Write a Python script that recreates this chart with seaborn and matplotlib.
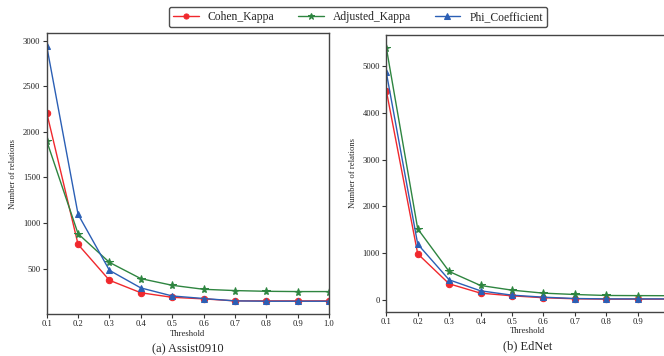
import matplotlib
matplotlib.use("Agg")
import matplotlib.pyplot as plt
import seaborn as sns
import pandas as pd

thresholds = [0.1, 0.2, 0.3, 0.4, 0.5, 0.6, 0.7, 0.8, 0.9, 1.0]
series_names = ["Cohen_Kappa", "Adjusted_Kappa", "Phi_Coefficient"]

assist_cohen = [2210, 765, 372, 235, 185, 168, 146, 146, 146, 146]
assist_adjusted = [1900, 882, 568, 390, 317, 273, 259, 251, 248, 248]
assist_phi = [2940, 1095, 481, 288, 200, 172, 146, 142, 142, 142]

ednet_cohen = [4480, 985, 343, 143, 86, 45, 22, 15, 15, 15]
ednet_adjusted = [5400, 1520, 607, 307, 207, 143, 114, 93, 90, 88]
ednet_phi = [4870, 1192, 428, 193, 100, 57, 28, 20, 20, 20]

subtitles = ["(a) Assist0910", "(b) EdNet"]

colors = {"Cohen_Kappa": "#f0282d", "Adjusted_Kappa": "#2e8540", "Phi_Coefficient": "#2b5fb5"}
markers = {"Cohen_Kappa": "o", "Adjusted_Kappa": "*", "Phi_Coefficient": "^"}
msizes = {"Cohen_Kappa": 4.6, "Adjusted_Kappa": 5.8, "Phi_Coefficient": 4.8}

def make_df(c, a, p):
    rows = []
    for name, vals in zip(series_names, [c, a, p]):
        for t, v in zip(thresholds, vals):
            rows.append({"Threshold": t, "value": v, "metric": name})
    return pd.DataFrame(rows)

dfs = [make_df(assist_cohen, assist_adjusted, assist_phi),
       make_df(ednet_cohen, ednet_adjusted, ednet_phi)]

sns.set_style("ticks")
plt.rcParams["font.family"] = ["Liberation Serif", "DejaVu Serif"]

fig = plt.figure(figsize=(6.64, 3.56), dpi=100)
W, H = 664, 356
ax1 = fig.add_axes([46.7 / W, 1 - 314 / H, 282.3 / W, (314 - 33.3) / H])
ax2 = fig.add_axes([386.3 / W, 1 - 311.7 / H, 282.7 / W, (311.7 - 35) / H])

for ax, df, sub in zip([ax1, ax2], dfs, subtitles):
    for name in series_names:
        d = df[df["metric"] == name]
        sns.lineplot(data=d, x="Threshold", y="value", ax=ax, color=colors[name],
                     marker=markers[name], markersize=msizes[name], markeredgecolor=colors[name],
                     linewidth=1.0, label=name, legend=False)
    ax.set_xlim(0.1, 1.0)
    ax.set_xticks(thresholds)
    ax.set_xticklabels([f"{t:.1f}" for t in thresholds])
    ax.tick_params(labelsize=6.2, length=3, width=0.8, pad=1.5, colors="#333333", labelcolor="#222222")
    ax.set_xlabel("Threshold", fontsize=6.2, labelpad=1)
    ax.set_ylabel("Number of relations", fontsize=6.2, labelpad=4)
    for s in ax.spines.values():
        s.set_visible(True)
        s.set_linewidth(1.0)
        s.set_color("#444444")
    ax.text(0.5, -0.103, sub, transform=ax.transAxes, ha="center", va="top", fontsize=9)

ax1.set_yticks([500, 1000, 1500, 2000, 2500, 3000])
ax2.set_yticks([0, 1000, 2000, 3000, 4000, 5000])

handles, labels = ax1.get_legend_handles_labels()
leg = fig.legend(handles, labels, loc="center", bbox_to_anchor=(358 / W, 1 - 17 / H),
                 ncol=3, fontsize=8.4, frameon=True, fancybox=True, edgecolor="#222222",
                 handlelength=2.2, columnspacing=2.0, borderpad=0.35, markerscale=0.8)
leg.get_frame().set_linewidth(1.0)

fig.savefig("out.png", dpi=100)
